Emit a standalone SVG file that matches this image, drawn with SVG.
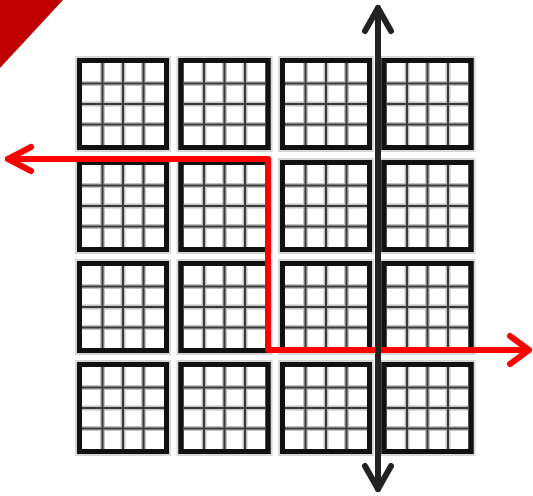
<svg xmlns="http://www.w3.org/2000/svg" xmlns:xlink="http://www.w3.org/1999/xlink" width="533" height="496" viewBox="0 0 533 496">
<style>
.halo{fill:none;stroke:#d6d6d6;stroke-width:2}
.frame{fill:#fff;stroke:#111;stroke-width:5}
.edge{fill:none;stroke:#111;stroke-width:5}
.gblur{stroke:#c2c2c2;stroke-width:5;fill:none}
.gline{stroke:#3a3a3a;stroke-width:2;fill:none}
.red{fill:none;stroke:#ff0000;stroke-width:6;stroke-linecap:round;stroke-linejoin:round}
.blk{fill:none;stroke:#222;stroke-width:6;stroke-linecap:round;stroke-linejoin:round}
</style>
<defs>
<g id="tile">
<rect class="halo" x="-1" y="-1" width="94" height="94"/>
<rect class="frame" x="2.5" y="2.5" width="87" height="87"/>
<path class="gblur" d="M25.5 5V87M46 5V87M66.5 5V87M5 25.5H87M5 46H87M5 66.5H87"/>
<path class="gline" d="M25.5 5V87M46 5V87M66.5 5V87M5 25.5H87M5 46H87M5 66.5H87"/>
<rect class="edge" x="2.5" y="2.5" width="87" height="87"/>
</g>
</defs>
<rect width="533" height="496" fill="#fff"/>
<polygon points="0,0 63,0 0,68" fill="#c00000"/>
<g id="tile-r1c1"><use xlink:href="#tile" x="77" y="58"/></g>
<g id="tile-r1c2"><use xlink:href="#tile" x="178.5" y="58"/></g>
<g id="tile-r1c3"><use xlink:href="#tile" x="280" y="58"/></g>
<g id="tile-r1c4"><use xlink:href="#tile" x="381.5" y="58"/></g>
<g id="tile-r2c1"><use xlink:href="#tile" x="77" y="160"/></g>
<g id="tile-r2c2"><use xlink:href="#tile" x="178.5" y="160"/></g>
<g id="tile-r2c3"><use xlink:href="#tile" x="280" y="160"/></g>
<g id="tile-r2c4"><use xlink:href="#tile" x="381.5" y="160"/></g>
<g id="tile-r3c1"><use xlink:href="#tile" x="77" y="261"/></g>
<g id="tile-r3c2"><use xlink:href="#tile" x="178.5" y="261"/></g>
<g id="tile-r3c3"><use xlink:href="#tile" x="280" y="261"/></g>
<g id="tile-r3c4"><use xlink:href="#tile" x="381.5" y="261"/></g>
<g id="tile-r4c1"><use xlink:href="#tile" x="77" y="362"/></g>
<g id="tile-r4c2"><use xlink:href="#tile" x="178.5" y="362"/></g>
<g id="tile-r4c3"><use xlink:href="#tile" x="280" y="362"/></g>
<g id="tile-r4c4"><use xlink:href="#tile" x="381.5" y="362"/></g>
<g id="connectors">
<polyline class="red" points="8,159 268,159 268,350 528,350"/>
<polyline class="red" points="31,147 8,159 31,171"/>
<polyline class="red" points="510,336 529,350 510,364"/>
<line class="blk" x1="378" y1="8" x2="378" y2="489"/>
<polyline class="blk" points="365,31 378,8 391,31"/>
<polyline class="blk" points="365,466 378,489 391,466"/>
</g>
</svg>
